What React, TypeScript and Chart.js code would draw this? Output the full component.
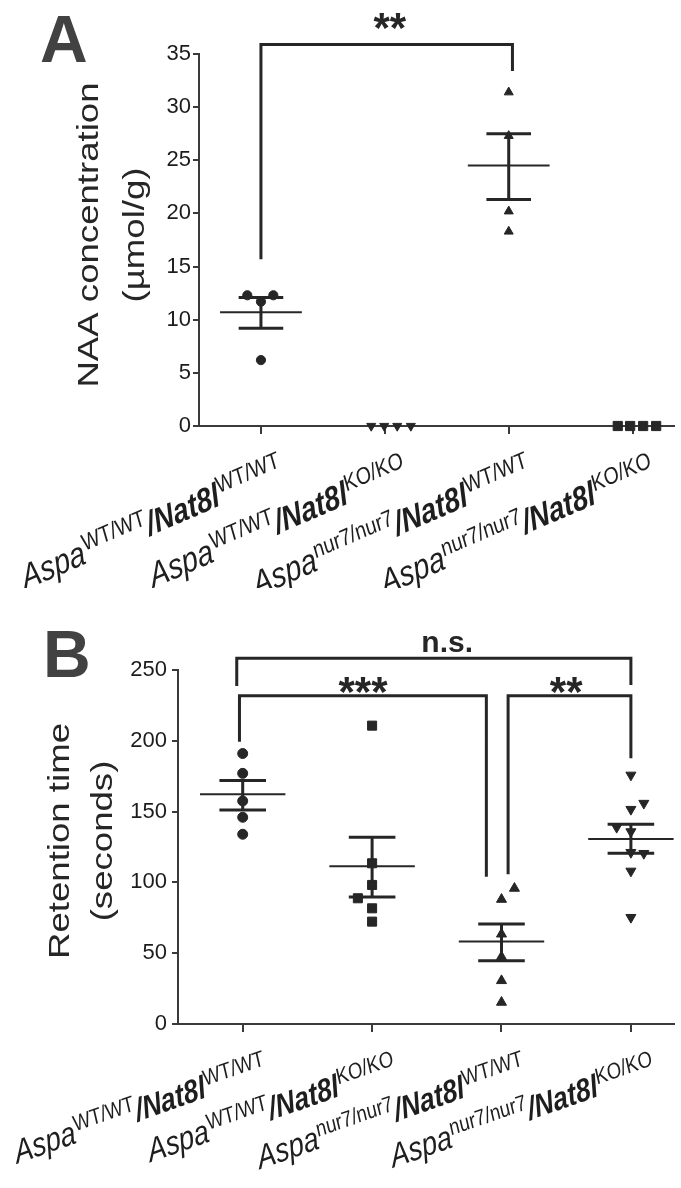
import React, { useEffect, useRef } from 'react';
import { Chart, registerables } from 'chart.js';

Chart.register(...registerables);

const FONT = "'Liberation Sans', Arial, Helvetica, sans-serif";
const INK = '#262626';
const AXIS = '#3a3a3a';

// ---------- shared categories ----------
const groupPositions = [1, 2, 3, 4];
const aspaSup = ['WT/WT', 'WT/WT', 'nur7/nur7', 'nur7/nur7'];
const nat8Sup = ['WT/WT', 'KO/KO', 'WT/WT', 'KO/KO'];

// ---------- Panel A: NAA concentration (µmol/g) ----------
const naaTicks = [0, 5, 10, 15, 20, 25, 30, 35];
const naaG1 = [12.3, 12.3, 11.7, 6.2];
const naaG1X = [0.89, 1.1, 1.0, 1.0];
const naaG2 = [0, 0, 0, 0];
const naaG2X = [1.89, 1.995, 2.1, 2.21];
const naaG3 = [31.4, 27.3, 20.2, 18.3];
const naaG3X = [3, 3, 3, 3];
const naaG4 = [0, 0, 0, 0];
const naaG4X = [3.88, 3.98, 4.085, 4.19];
const naaMean = [10.7, null, 24.5, null];
const naaSemHi = [12.1, null, 27.5, null];
const naaSemLo = [9.2, null, 21.3, null];

// ---------- Panel B: Retention time (seconds) ----------
const retTicks = [0, 50, 100, 150, 200, 250];
const retG1 = [191, 177, 157.5, 146, 134];
const retG1X = [1, 1, 1, 1, 1];
const retG2 = [210.7, 113.5, 98.2, 88.8, 81.7, 72.3];
const retG2X = [2, 2, 2, 1.89, 2, 2];
const retG3 = [95.8, 88, 63.5, 47.5, 30.6, 15.3];
const retG3X = [3.1, 3, 3, 3, 3, 3];
const retG4 = [175.8, 155.9, 151.6, 138.9, 135.8, 121.2, 120.5, 108, 75.3];
const retG4X = [4, 4.1, 4, 3.89, 4, 4, 4.1, 4, 4];
const retMean = [162.2, 111.4, 58.2, 130.6];
const retSemHi = [172, 131.9, 70.6, 141];
const retSemLo = [151.1, 89.7, 44.7, 120.5];

// ---------- significance brackets (data units) ----------
const naaBrackets = [{ x1: 1, x2: 3.03, top: 35.9, y1: 15.7, y2: 33.4 }];
const naaMarks = [{ text: '**', x: 2.04, y: 38.4, kind: 'star' }];
const retBrackets = [
  { x1: 0.954, x2: 4.0, top: 258.3, y1: 238.7, y2: 239.4 },
  { x1: 0.975, x2: 2.883, top: 231.9, y1: 199.4, y2: 104 },
  { x1: 3.051, x2: 4.0, top: 231.9, y1: 105.7, y2: 187.6 },
];
const retMarks = [
  { text: 'n.s.', x: 2.58, y: 268.4, kind: 'text' },
  { text: '***', x: 1.93, y: 241.7, kind: 'star' },
  { text: '**', x: 3.5, y: 241.7, kind: 'star' },
];

type Group = { x: number[]; y: number[]; style: string; rotation: number; radius: number };
type Panel = {
  letter: string;
  letterX: number;
  letterY: number;
  titleLines: string[];
  titleX: number[];
  titleY: number;
  groups: Group[];
  mean: (number | null)[];
  hi: (number | null)[];
  lo: (number | null)[];
  yMax: number;
  yTicks: number[];
  yAxisW: number;
  xAxisH: number;
  topPad: number;
  height: number;
  brackets: { x1: number; x2: number; top: number; y1: number; y2: number }[];
  marks: { text: string; x: number; y: number; kind: string }[];
  labelDX: number;
  labelDY: number;
  labelAngle: number;
  labelScale: number;
  tickPad: number;
};

const panelA: Panel = {
  letter: 'A',
  letterX: 40,
  letterY: 62,
  titleLines: ['NAA concentration', '(µmol/g)'],
  titleX: [90, 136],
  titleY: 235,
  groups: [
    { x: naaG1X, y: naaG1, style: 'circle', rotation: 0, radius: 4.6 },
    { x: naaG2X, y: naaG2, style: 'triangle', rotation: 180, radius: 5.2 },
    { x: naaG3X, y: naaG3, style: 'triangle', rotation: 0, radius: 5.2 },
    { x: naaG4X, y: naaG4, style: 'rect', rotation: 0, radius: 6.5 },
  ],
  mean: naaMean,
  hi: naaSemHi,
  lo: naaSemLo,
  yMax: 35,
  yTicks: naaTicks,
  yAxisW: 199,
  xAxisH: 162,
  topPad: 54,
  height: 588,
  brackets: naaBrackets,
  marks: naaMarks,
  labelDX: 23,
  labelDY: 52,
  labelAngle: 19.5,
  labelScale: 1,
  tickPad: 2,
};

const panelB: Panel = {
  letter: 'B',
  letterX: 43,
  letterY: 89,
  titleLines: ['Retention time', '(seconds)'],
  titleX: [61, 104],
  titleY: 253,
  groups: [
    { x: retG1X, y: retG1, style: 'circle', rotation: 0, radius: 5 },
    { x: retG2X, y: retG2, style: 'rect', rotation: 0, radius: 6.4 },
    { x: retG3X, y: retG3, style: 'triangle', rotation: 0, radius: 5.8 },
    { x: retG4X, y: retG4, style: 'triangle', rotation: 180, radius: 5.8 },
  ],
  mean: retMean,
  hi: retSemHi,
  lo: retSemLo,
  yMax: 250,
  yTicks: retTicks,
  yAxisW: 178,
  xAxisH: 164,
  topPad: 82,
  height: 600,
  brackets: retBrackets,
  marks: retMarks,
  labelDX: 25,
  labelDY: 52,
  labelAngle: 16,
  labelScale: 0.95,
  tickPad: 5,
};

const LABEL_STRETCH = 1.22;

function drawRichLabel(
  ctx: CanvasRenderingContext2D,
  x: number,
  y: number,
  i: number,
  angleDeg: number,
  k: number
) {
  const parts = [
    { text: 'Aspa', font: `italic ${29 * k}px ${FONT}`, dy: 0 },
    { text: aspaSup[i], font: `${19.5 * k}px ${FONT}`, dy: -10 * k },
    { text: '/Nat8l', font: `italic bold ${28 * k}px ${FONT}`, dy: 0 },
    { text: nat8Sup[i], font: `${19.5 * k}px ${FONT}`, dy: -10 * k },
  ];
  ctx.save();
  ctx.translate(x, y);
  ctx.scale(1, LABEL_STRETCH);
  ctx.rotate((-angleDeg * Math.PI) / 180);
  const widths = parts.map((p) => {
    ctx.font = p.font;
    return ctx.measureText(p.text).width;
  });
  const total = widths.reduce((a, b) => a + b, 0);
  let cx = -total;
  ctx.fillStyle = '#1e1e1e';
  ctx.textAlign = 'left';
  ctx.textBaseline = 'alphabetic';
  parts.forEach((p, j) => {
    ctx.font = p.font;
    ctx.fillText(p.text, cx, p.dy);
    cx += widths[j];
  });
  ctx.restore();
}

function makeOverlay(p: Panel) {
  return {
    id: 'overlay' + p.letter,
    beforeDatasetsDraw(chart: any) {
      const { ctx } = chart;
      const xs = chart.scales.x;
      const ys = chart.scales.y;
      ctx.save();
      ctx.strokeStyle = INK;
      ctx.lineCap = 'butt';
      p.mean.forEach((m, i) => {
        if (m == null) return;
        const cx = xs.getPixelForValue(groupPositions[i]);
        const meanHalf = xs.getPixelForValue(groupPositions[i] + 0.33) - cx;
        const capHalf = xs.getPixelForValue(groupPositions[i] + 0.18) - cx;
        const ym = ys.getPixelForValue(m);
        const yh = ys.getPixelForValue(p.hi[i] as number);
        const yl = ys.getPixelForValue(p.lo[i] as number);
        ctx.lineWidth = 2;
        ctx.beginPath();
        ctx.moveTo(cx - meanHalf, ym);
        ctx.lineTo(cx + meanHalf, ym);
        ctx.stroke();
        ctx.lineWidth = 3;
        ctx.beginPath();
        ctx.moveTo(cx - capHalf, yh);
        ctx.lineTo(cx + capHalf, yh);
        ctx.moveTo(cx - capHalf, yl);
        ctx.lineTo(cx + capHalf, yl);
        ctx.moveTo(cx, yh);
        ctx.lineTo(cx, yl);
        ctx.stroke();
      });
      ctx.restore();
    },
    afterDraw(chart: any) {
      const { ctx } = chart;
      const xs = chart.scales.x;
      const ys = chart.scales.y;
      ctx.save();
      // brackets
      ctx.strokeStyle = INK;
      ctx.lineWidth = 3;
      ctx.lineJoin = 'miter';
      p.brackets.forEach((b) => {
        ctx.beginPath();
        ctx.moveTo(xs.getPixelForValue(b.x1), ys.getPixelForValue(b.y1));
        ctx.lineTo(xs.getPixelForValue(b.x1), ys.getPixelForValue(b.top));
        ctx.lineTo(xs.getPixelForValue(b.x2), ys.getPixelForValue(b.top));
        ctx.lineTo(xs.getPixelForValue(b.x2), ys.getPixelForValue(b.y2));
        ctx.stroke();
      });
      // marks
      ctx.fillStyle = INK;
      ctx.textAlign = 'center';
      ctx.textBaseline = 'alphabetic';
      p.marks.forEach((mk) => {
        const size = mk.kind === 'star' ? 42 : 30;
        ctx.font = `bold ${size}px ${FONT}`;
        const off = mk.kind === 'star' ? 0.58 * size : 0.26 * size;
        ctx.fillText(mk.text, xs.getPixelForValue(mk.x), ys.getPixelForValue(mk.y) + off);
      });
      // x labels
      const axisY = chart.chartArea.bottom;
      groupPositions.forEach((g, i) => {
        drawRichLabel(ctx, xs.getPixelForValue(g) + p.labelDX, axisY + p.labelDY, i, p.labelAngle, p.labelScale);
      });
      // y title
      ctx.fillStyle = '#262626';
      p.titleLines.forEach((t, k) => {
        ctx.save();
        ctx.translate(p.titleX[k], p.titleY);
        ctx.rotate(-Math.PI / 2);
        ctx.scale(1.22, 1);
        ctx.font = `30px ${FONT}`;
        ctx.textAlign = 'center';
        ctx.textBaseline = 'middle';
        ctx.fillText(t, 0, 0);
        ctx.restore();
      });
      // panel letter
      ctx.fillStyle = '#424242';
      ctx.font = `bold 66px ${FONT}`;
      ctx.textAlign = 'left';
      ctx.textBaseline = 'alphabetic';
      ctx.fillText(p.letter, p.letterX, p.letterY);
      ctx.restore();
    },
  };
}

function makeConfig(p: Panel): any {
  return {
    type: 'scatter',
    data: {
      datasets: p.groups.map((g) => ({
        data: g.x.map((xv, k) => ({ x: xv, y: g.y[k] })),
        pointStyle: g.style,
        rotation: g.rotation,
        pointRadius: g.radius,
        pointBackgroundColor: INK,
        pointBorderColor: INK,
        pointBorderWidth: 1,
        clip: false,
      })),
    },
    options: {
      responsive: false,
      animation: false,
      events: [],
      layout: { padding: { top: p.topPad, left: 0, right: 0, bottom: 0 } },
      plugins: { legend: { display: false }, tooltip: { enabled: false } },
      scales: {
        x: {
          type: 'linear',
          min: 0.5,
          max: 4.33,
          afterBuildTicks: (s: any) => {
            s.ticks = groupPositions.map((v) => ({ value: v }));
          },
          afterFit: (s: any) => {
            s.height = p.xAxisH;
          },
          ticks: { display: false },
          grid: { drawOnChartArea: false, drawTicks: true, tickLength: 8, color: AXIS, lineWidth: 2 },
          border: { display: true, color: AXIS, width: 2 },
        },
        y: {
          type: 'linear',
          min: 0,
          max: p.yMax,
          afterBuildTicks: (s: any) => {
            s.ticks = p.yTicks.map((v) => ({ value: v }));
          },
          afterFit: (s: any) => {
            s.width = p.yAxisW;
          },
          ticks: { color: '#1c1c1c', font: { family: FONT, size: 22 }, padding: p.tickPad },
          grid: { drawOnChartArea: false, drawTicks: true, tickLength: 6, color: AXIS, lineWidth: 2 },
          border: { display: true, color: AXIS, width: 2 },
        },
      },
    },
    plugins: [makeOverlay(p)],
  };
}

function PanelChart({ panel, top }: { panel: Panel; top: number }) {
  const ref = useRef<HTMLCanvasElement | null>(null);
  useEffect(() => {
    if (!ref.current) return;
    const chart = new Chart(ref.current, makeConfig(panel));
    return () => chart.destroy();
  }, [panel]);
  return (
    <canvas
      ref={ref}
      width={681}
      height={panel.height}
      style={{ position: 'absolute', left: 0, top, width: 681, height: panel.height, display: 'block' }}
    />
  );
}

export default function App() {
  return (
    <div style={{ position: 'absolute', left: 0, top: 0, width: 681, height: 1188, background: '#fff', overflow: 'hidden' }}>
      <PanelChart panel={panelA} top={0} />
      <PanelChart panel={panelB} top={588} />
    </div>
  );
}
